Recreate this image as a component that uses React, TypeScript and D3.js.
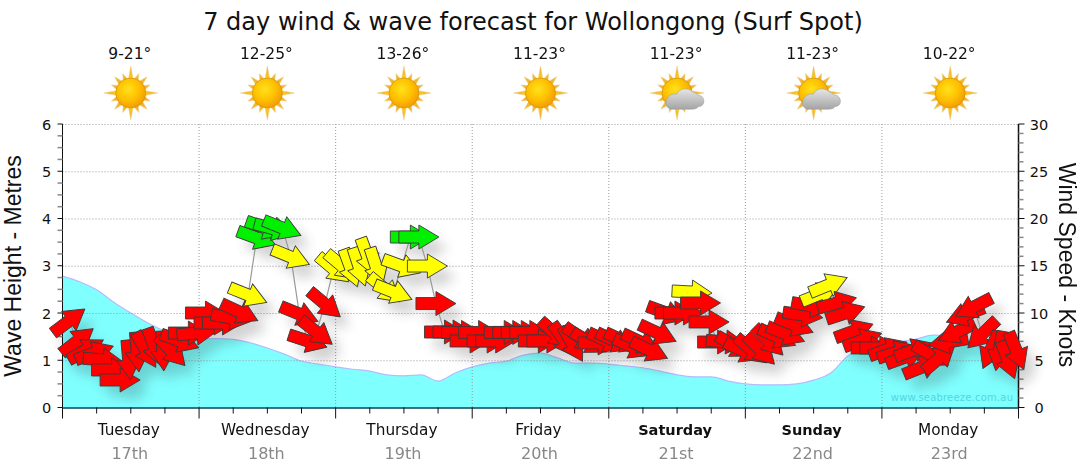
import * as d3 from 'd3';

const days = ['Tuesday', 'Wednesday', 'Thursday', 'Friday', 'Saturday', 'Sunday', 'Monday'];
const dates = ['17th', '18th', '19th', '20th', '21st', '22nd', '23rd'];
const temps = ['9-21°', '12-25°', '13-26°', '11-23°', '11-23°', '11-23°', '10-22°'];
const skies = ['sun', 'sun', 'sun', 'sun', 'cloud', 'cloud', 'sun'];
const boldDays = ['Saturday', 'Sunday'];

// wave height in metres, one value every 3 hours
const waveHeight = [
  2.78, 2.66, 2.49, 2.23, 2.0, 1.79, 1.62, 1.51, 1.45, 1.46, 1.44, 1.37, 1.26, 1.13, 0.98, 0.92,
  0.86, 0.81, 0.77, 0.69, 0.67, 0.69, 0.56, 0.73, 0.86, 0.94, 0.98, 1.11, 1.15, 1.05, 0.94, 0.94,
  0.92, 0.88, 0.84, 0.77, 0.69, 0.65, 0.65, 0.56, 0.5, 0.48, 0.48, 0.5, 0.58, 0.73, 1.09, 1.28,
  1.37, 1.39, 1.45, 1.53, 1.51, 1.32, 1.28, 1.26, 1.22,
];

// wind speed in knots, one value every 1.5 hours
const windSpeed = [
  9.15, 7.04, 6.08, 5.77, 5.03, 3.97, 2.91, 5.03, 5.87, 6.08, 6.4, 5.98, 5.98, 7.04, 7.88, 7.88,
  10.0, 8.94, 8.94, 9.47, 10.1, 11.9, 17.94, 19.0, 18.9, 19.0, 15.93, 9.89, 7.04, 7.99, 10.95, 14.66,
  14.97, 14.76, 14.87, 15.93, 14.87, 12.54, 12.22, 14.97, 18.04, 18.04, 14.97, 11.0, 7.99, 7.99, 7.94, 7.04,
  7.94, 7.04, 7.04, 7.94, 7.94, 7.94, 7.94, 7.04, 7.04, 7.78, 7.14, 6.72, 7.35, 6.93, 6.83, 7.04,
  7.04, 7.04, 6.4, 6.93, 6.08, 7.88, 10.0, 10.0, 10.0, 12.22, 11.06, 9.05, 6.93, 6.93, 6.51, 5.98,
  6.08, 6.08, 7.04, 7.46, 7.78, 8.73, 9.79, 10.74, 12.01, 12.96, 11.06, 10.0, 8.09, 7.14, 6.3, 6.3,
  6.19, 5.87, 5.34, 6.08, 4.29, 5.56, 5.24, 6.93, 7.99, 9.79, 10.63, 7.78, 6.08, 5.98, 5.03, 5.98,
];

// arrow heading in degrees, 0 = pointing right, positive = anticlockwise
const windHeading = [
  37, 38, 30, 20, -5, 0, 0, -85, -85, -60, -70, -87, -47, -20, 0, 5,
  0, 0, 0, -10, -25, -22, -20, -20, -15, -22, -22, -22, -18, -38, -40, -40,
  -40, -70, -72, -70, -72, -40, -22, -20, 0, 0, 0, 0, 0, 0, 0, 0,
  0, 0, 0, 0, 0, 0, 0, 0, 0, -42, -55, -60, -35, -30, 0, -25,
  -25, -25, -25, -25, -25, -25, -20, 0, 0, -3, 0, 0, 0, -5, -30, -25,
  -40, -45, -45, -25, -22, -22, -8, -10, 22, 22, 15, 18, 20, 20, 0, 0,
  20, 18, 20, 20, 22, -30, 40, 190, 205, 201, 207, 224, -113, -100, -70, -68,
];

const width = 1080;
const height = 475;
const left = 62.5;
const right = 1018.5;
const top = 124;
const bottom = 407.5;

const sansFont = '"DejaVu Sans", Verdana, sans-serif';
const titleFont = '"Liberation Sans", Arial, sans-serif';

const hoursPerDay = 24;
const x = d3.scaleLinear().domain([0, days.length * hoursPerDay]).range([left, right]);
const yWave = d3.scaleLinear().domain([0, 6]).range([bottom, top]);
const yWind = d3.scaleLinear().domain([0, 30]).range([bottom, top]);
const arrowColor = d3.scaleThreshold<number, string>().domain([11.5, 16.5]).range(['#ff0000', '#ffff00', '#00f000']);

const windHour = (i: number) => (i + 0.75) * 1.5;

const wavePath = d3.area<number>()
  .x((_, i) => x(i * 3))
  .y0(bottom)
  .y1(d => yWave(d))
  .curve(d3.curveMonotoneX)(waveHeight) as string;

const waveEdge = d3.line<number>()
  .x((_, i) => x(i * 3))
  .y(d => yWave(d))
  .curve(d3.curveMonotoneX)(waveHeight) as string;

const windLine = d3.line<number>()
  .x((_, i) => x(windHour(i)))
  .y(d => yWind(d))(windSpeed) as string;

const arrowShape = d3.line()([
  [-20, -6], [0, -6], [0, -12], [20, 0], [0, 12], [0, 6], [-20, 6],
]) + 'Z';

const dayHours = d3.range(0, days.length + 1).map(d => d * hoursPerDay);
const minorHours = d3.range(0, days.length * hoursPerDay + 1, 6).filter(h => h % hoursPerDay !== 0);
const waveMajor = yWave.ticks(6);
const waveMinor = d3.range(0, 6.01, 0.25).filter(v => v % 1 !== 0);
const windMajor = yWind.ticks(6);
const windMinor = d3.range(0, 30.01, 1).filter(v => v % 5 !== 0);

function SunIcon({ cx, cy }: { cx: number; cy: number }) {
  return (
    <g transform={`translate(${cx},${cy})`}>
      {d3.range(16).map(i => {
        const long = i % 4 === 0;
        const mid = i % 2 === 0;
        const r = long ? 27 : mid ? 23 : 21;
        const w = long ? 2.8 : 3;
        return (
          <path
            key={i}
            d={`M${-w},-12L0,${-r}L${w},-12Z`}
            transform={`rotate(${i * 22.5})`}
            fill={long ? 'url(#rayLong)' : '#f3b52a'}
            stroke="#ecd28e"
            strokeWidth={0.5}
          />
        );
      })}
      <circle r={15} fill="url(#sunFill)" stroke="#c98a10" strokeWidth={0.6} />
    </g>
  );
}

function CloudIcon({ cx, cy }: { cx: number; cy: number }) {
  return (
    <path
      transform={`translate(${cx},${cy}) scale(0.88)`}
      d="M-9,15 C-16,15 -18,7 -14,2 C-12,-2 -7,-3 -4,-2 C-1,-9 9,-10 14,-5 C17,-3 19,-3 20,-1 C25,-1 27,3 27,6 C27,10 24,12 21,12 C19,15 15,15 12,15 Z"
      fill="url(#cloudFill)"
      stroke="#9a9a9a"
      strokeWidth={0.6}
    />
  );
}

export default function App() {
  return (
    <svg
      width={width}
      height={height}
      viewBox={`0 0 ${width} ${height}`}
      style={{ position: 'absolute', left: 0, top: 0, background: '#fff' }}
    >
      <defs>
        <radialGradient id="sunFill" cx="42%" cy="38%" r="65%">
          <stop offset="0%" stopColor="#ffe21a" />
          <stop offset="55%" stopColor="#ffc000" />
          <stop offset="100%" stopColor="#f29a05" />
        </radialGradient>
        <linearGradient id="rayLong" x1="0" x2="0" y1="0" y2="1">
          <stop offset="0%" stopColor="#f0a830" />
          <stop offset="100%" stopColor="#ffd21a" />
        </linearGradient>
        <linearGradient id="cloudFill" x1="0" x2="0" y1="0" y2="1">
          <stop offset="0%" stopColor="#e6e6e6" />
          <stop offset="100%" stopColor="#a4a4a4" />
        </linearGradient>
        <filter id="arrowBlur" x="-100%" y="-100%" width="300%" height="300%">
          <feGaussianBlur stdDeviation="6" />
        </filter>
      </defs>

      <path d={wavePath} fill="#80ffff" />
      <path d={waveEdge} fill="none" stroke="#b4bcff" strokeWidth={1.2} />

      {/* grid */}
      {waveMajor.filter(v => v > 0).map(v => (
        <line key={v} x1={left} x2={right} y1={yWave(v) + 0.5} y2={yWave(v) + 0.5} stroke="#999" strokeDasharray="1 2" />
      ))}
      {dayHours.slice(1, -1).map(h => (
        <line key={h} x1={x(h)} x2={x(h)} y1={top} y2={bottom} stroke="#999" strokeDasharray="1 2" />
      ))}

      <text x={952} y={401} textAnchor="middle" fontFamily={sansFont} fontSize={10} fill="#55d5e0" letterSpacing={0.2}>
        www.seabreeze.com.au
      </text>

      {/* axes */}
      <line x1={left} x2={left} y1={top} y2={bottom} stroke="#111" />
      <line x1={right} x2={right} y1={top} y2={bottom + 0.5} stroke="#111" strokeWidth={1.5} />
      <line x1={left} x2={right} y1={bottom + 0.5} y2={bottom + 0.5} stroke="#03405c" strokeWidth={1.5} />
      {waveMajor.map(v => (
        <g key={v}>
          <line x1={left - 5} x2={left} y1={yWave(v)} y2={yWave(v)} stroke="#111" />
          <text x={46.5} y={yWave(v) + 5.5} textAnchor="middle" fontFamily={sansFont} fontSize={14.5} fill="#111">{v}</text>
        </g>
      ))}
      {waveMinor.map(v => (
        <line key={v} x1={left - 5} x2={left} y1={yWave(v)} y2={yWave(v)} stroke="#888" strokeWidth={1.5} />
      ))}
      {windMajor.map(v => (
        <g key={v}>
          <line x1={right} x2={right + 6} y1={yWind(v)} y2={yWind(v)} stroke="#111" />
          <text x={1039} y={yWind(v) + 5.5} textAnchor="middle" fontFamily={sansFont} fontSize={14.5} fill="#111">{v}</text>
        </g>
      ))}
      {windMinor.map(v => (
        <line key={v} x1={right} x2={right + 5} y1={yWind(v)} y2={yWind(v)} stroke="#888" strokeWidth={1.5} />
      ))}
      {dayHours.map(h => (
        <line key={h} x1={x(h)} x2={x(h)} y1={bottom} y2={bottom + 11} stroke="#111" />
      ))}
      {minorHours.map(h => (
        <line key={h} x1={x(h)} x2={x(h)} y1={bottom} y2={bottom + 6} stroke="#111" />
      ))}

      {/* arrow shadows, the wind line, then the arrows */}
      <g filter="url(#arrowBlur)" opacity={0.2}>
        {windSpeed.map((v, i) => (
          <path
            key={i}
            d={arrowShape}
            fill="#222"
            transform={`translate(${x(windHour(i)) + 9},${yWind(v) + 11}) rotate(${-windHeading[i]})`}
          />
        ))}
      </g>
      <path d={windLine} fill="none" stroke="#999" strokeWidth={1.2} />
      {windSpeed.map((v, i) => (
        <path
          key={i}
          d={arrowShape}
          fill={arrowColor(v)}
          stroke="#3a3a3a"
          strokeWidth={0.9}
          strokeLinejoin="miter"
          transform={`translate(${x(windHour(i))},${yWind(v)}) rotate(${-windHeading[i]})`}
        />
      ))}

      {/* text */}
      <text x={533} y={30} textAnchor="middle" fontFamily={sansFont} fontSize={24} fill="#111">
        7 day wind &amp; wave forecast for Wollongong (Surf Spot)
      </text>
      <text
        transform="translate(21,266) rotate(-90)"
        textAnchor="middle"
        fontFamily={titleFont}
        fontSize={23}
        fill="#111"
      >
        Wave Height - Metres
      </text>
      <text
        transform="translate(1059,265) rotate(90)"
        textAnchor="middle"
        fontFamily={titleFont}
        fontSize={23}
        fill="#111"
      >
        Wind Speed - Knots
      </text>

      {days.map((d, i) => {
        const mid = x((i + 0.5) * hoursPerDay);
        const bold = boldDays.includes(d);
        return (
          <g key={d}>
            <text x={mid - 1} y={59} textAnchor="middle" fontFamily={sansFont} fontSize={15.5} fill="#111">{temps[i]}</text>
            <SunIcon cx={mid} cy={93} />
            {skies[i] === 'cloud' && <CloudIcon cx={mid + 3} cy={96} />}
            <text
              x={mid - 2}
              y={435}
              textAnchor="middle"
              fontFamily={sansFont}
              fontSize={bold ? 14.5 : 15.3}
              fontWeight={bold ? 'bold' : 'normal'}
              fill="#111"
            >
              {d}
            </text>
            <text x={mid - 1} y={459} textAnchor="middle" fontFamily={sansFont} fontSize={16} fill="#888">{dates[i]}</text>
          </g>
        );
      })}
    </svg>
  );
}
